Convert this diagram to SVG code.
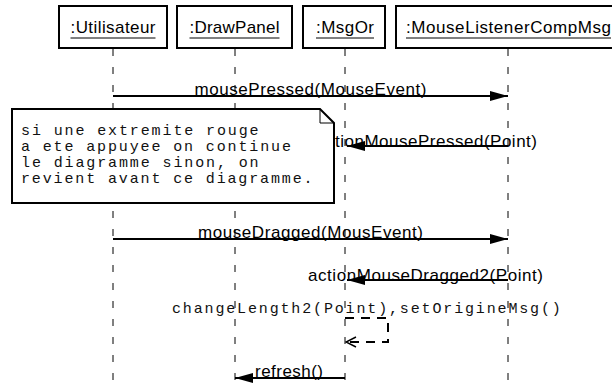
<svg xmlns="http://www.w3.org/2000/svg" width="612" height="385" viewBox="0 0 612 385">
<style>
.box{fill:#fff;stroke:#000;stroke-width:2}
.lbl{font-family:"Liberation Sans",Arial,sans-serif;font-size:17px;fill:#000}
.mono{font-family:"Liberation Mono","Courier New",monospace;font-size:15px;fill:#111}
.ul{stroke:#000;stroke-width:1}
.life{stroke:#000;stroke-width:1;stroke-dasharray:7 11;fill:none}
.msg{stroke:#000;stroke-width:2;fill:none}
.ret{stroke:#000;stroke-width:2;fill:none;stroke-dasharray:9 7}
</style>
<defs>
<marker id="filled" markerWidth="18" markerHeight="10" refX="18" refY="5" orient="auto" markerUnits="userSpaceOnUse">
<path d="M0,0 L18,5 L0,10 Z" fill="#000"/>
</marker>
<marker id="open" markerWidth="12" markerHeight="12" refX="11" refY="6" orient="auto" markerUnits="userSpaceOnUse">
<path d="M1,1 L11,6 L1,11" fill="none" stroke="#000" stroke-width="1.5"/>
</marker>
</defs>
<rect width="612" height="385" fill="#fff"/>
<g id="lifelines">
<line class="life" x1="113" y1="49" x2="113" y2="385"/>
<line class="life" x1="235" y1="49" x2="235" y2="385"/>
<line class="life" x1="345" y1="49" x2="345" y2="385"/>
<line class="life" x1="508" y1="49" x2="508" y2="385"/>
</g>
<g id="node-utilisateur">
<rect class="box" x="59" y="6" width="108" height="42"/>
<text class="lbl" x="113" y="33" text-anchor="middle" textLength="85">:Utilisateur</text>
<line class="ul" x1="70.5" y1="38" x2="155.5" y2="38"/>
</g>
<g id="node-drawpanel">
<rect class="box" x="177" y="6" width="115" height="42"/>
<text class="lbl" x="234.5" y="33" text-anchor="middle" textLength="90">:DrawPanel</text>
<line class="ul" x1="189.5" y1="38" x2="279.5" y2="38"/>
</g>
<g id="node-msgor">
<rect class="box" x="303" y="6" width="82" height="42"/>
<text class="lbl" x="345" y="33" text-anchor="middle" textLength="58">:MsgOr</text>
<line class="ul" x1="316" y1="38" x2="374" y2="38"/>
</g>
<g id="node-mouselistener">
<rect class="box" x="396" y="6" width="226" height="42"/>
<text class="lbl" x="406" y="33" textLength="205">:MouseListenerCompMsg</text>
<line class="ul" x1="406" y1="38" x2="611" y2="38"/>
</g>
<g id="connectors">
<line class="msg" x1="113" y1="96" x2="508" y2="96" marker-end="url(#filled)"/>
<text class="lbl" x="310.5" y="95" text-anchor="middle" textLength="232">mousePressed(MouseEvent)</text>
<line class="msg" x1="508" y1="146" x2="347" y2="146" marker-end="url(#filled)"/>
<text class="lbl" x="426.5" y="147" text-anchor="middle" textLength="221">actionMousePressed(Point)</text>
</g>
<g id="note">
<path class="box" d="M12,109 L320,109 L334,123 L334,203 L12,203 Z"/>
<path d="M320,109 L320,123 L334,123" fill="none" stroke="#000" stroke-width="1"/>
<text class="mono" x="21" y="135" textLength="237.6">si une extremite rouge</text>
<text class="mono" x="21" y="151" textLength="270">a ete appuyee on continue</text>
<text class="mono" x="21" y="167" textLength="237.6">le diagramme sinon, on</text>
<text class="mono" x="21" y="183" textLength="291.6">revient avant ce diagramme.</text>
</g>
<g id="connectors2">
<line class="msg" x1="113" y1="239" x2="508" y2="239" marker-end="url(#filled)"/>
<text class="lbl" x="310.5" y="238" text-anchor="middle" textLength="225">mouseDragged(MousEvent)</text>
<line class="msg" x1="508" y1="280" x2="347" y2="280" marker-end="url(#filled)"/>
<text class="lbl" x="425.5" y="281" text-anchor="middle" textLength="235">actionMouseDragged2(Point)</text>
<text class="mono" x="172" y="313" textLength="388.8">changeLength2(Point),setOrigineMsg()</text>
<path class="ret" d="M345,318 L388,318 L388,342 L346,342" marker-end="url(#open)"/>
<line class="msg" x1="345" y1="378" x2="235" y2="378" marker-end="url(#filled)"/>
<text class="lbl" x="289" y="377" text-anchor="middle" textLength="68">refresh()</text>
</g>
</svg>
